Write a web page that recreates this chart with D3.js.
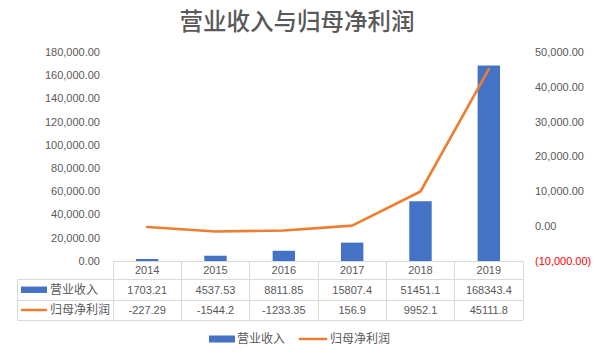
<!DOCTYPE html>
<html>
<head>
<meta charset="utf-8">
<script src="https://cdn.jsdelivr.net/npm/d3@7"></script>
<style>
  html, body { margin: 0; padding: 0; background: #fff; }
  #chart { width: 594px; height: 354px; }
  text { font-family: "Liberation Sans", "Noto Sans CJK SC", sans-serif; }
</style>
</head>
<body>
<div id="chart"></div>
<script>
// chart data
const years = ["2014", "2015", "2016", "2017", "2018", "2019"];
const revenue = [1703.21, 4537.53, 8811.85, 15807.4, 51451.1, 168343.4];
const netProfit = [-227.29, -1544.2, -1233.35, 156.9, 9952.1, 45111.8];
const seriesNames = ["营业收入", "归母净利润"];
const leftTicks = [0, 20000, 40000, 60000, 80000, 100000, 120000, 140000, 160000, 180000];
const rightTicks = [-10000, 0, 10000, 20000, 30000, 40000, 50000];
const title = "营业收入与归母净利润";

const W = 594, H = 354;
const M = {t: 52, r: 71, b: 93, l: 113};
const blue = "#4472C4", orange = "#ED7D31", grey = "#595959", gridC = "#d9d9d9";
const cjk = '"Noto Sans CJK SC", sans-serif';

const svg = d3.select("#chart").append("svg").attr("width", W).attr("height", H);

// scales
const xCol = d3.scaleBand().domain(years).range([M.l, W - M.r]).padding(0);
const xBar = d3.scaleBand().domain(years).range([M.l, W - M.r])
  .paddingInner(0.672).paddingOuter(0.336);
const yL = d3.scaleLinear().domain([0, 180000]).range([H - M.b, M.t]);
const yR = d3.scaleLinear().domain([-10000, 50000]).range([H - M.b, M.t]);

const fmt = d3.format(",.2f");

// title
svg.append("text")
  .attr("x", W / 2).attr("y", 30)
  .attr("text-anchor", "middle")
  .attr("font-family", cjk)
  .attr("font-size", "23.5px").attr("font-weight", 500)
  .attr("fill", grey)
  .text(title);

// left axis labels
svg.append("g").selectAll("text").data(leftTicks).enter().append("text")
  .attr("x", 100).attr("y", d => yL(d)).attr("dy", "0.35em")
  .attr("text-anchor", "end").attr("font-size", "11px").attr("fill", grey)
  .text(d => fmt(d));

// right axis labels
svg.append("g").selectAll("text").data(rightTicks).enter().append("text")
  .attr("x", 535).attr("y", d => yR(d)).attr("dy", "0.35em")
  .attr("text-anchor", "start").attr("font-size", "11px")
  .attr("fill", d => d < 0 ? "#FF0000" : grey)
  .text(d => d < 0 ? `(${fmt(-d)})` : fmt(d));

// bars
svg.append("g").selectAll("rect").data(years).enter().append("rect")
  .attr("x", d => xBar(d))
  .attr("width", xBar.bandwidth())
  .attr("y", (d, i) => yL(revenue[i]))
  .attr("height", (d, i) => yL(0) - yL(revenue[i]))
  .attr("fill", blue);

// line
const line = d3.line()
  .x((d, i) => xCol(years[i]) + xCol.bandwidth() / 2)
  .y(d => yR(d));
svg.append("path").datum(netProfit)
  .attr("d", line).attr("fill", "none")
  .attr("stroke", orange).attr("stroke-width", 2.6)
  .attr("stroke-linejoin", "round").attr("stroke-linecap", "round");

// data table
const tTop = H - M.b, rowH = [18.5, 20.5, 20];
const rowY = [tTop, tTop + rowH[0], tTop + rowH[0] + rowH[1], tTop + rowH[0] + rowH[1] + rowH[2]];
const tLeft = 17, tRight = W - M.r;
const tbl = svg.append("g").attr("stroke", gridC).attr("stroke-width", 1).attr("shape-rendering", "crispEdges");

tbl.append("line").attr("x1", M.l).attr("x2", tRight).attr("y1", rowY[0]).attr("y2", rowY[0]);
[1, 2, 3].forEach(r => {
  tbl.append("line").attr("x1", tLeft).attr("x2", tRight).attr("y1", rowY[r]).attr("y2", rowY[r]);
});
tbl.append("line").attr("x1", tLeft).attr("x2", tLeft).attr("y1", rowY[1]).attr("y2", rowY[3]);
years.forEach(y => {
  tbl.append("line").attr("x1", xCol(y)).attr("x2", xCol(y)).attr("y1", rowY[0]).attr("y2", rowY[3]);
});
tbl.append("line").attr("x1", tRight).attr("x2", tRight).attr("y1", rowY[0]).attr("y2", rowY[3]);

const cx = d => xCol(d) + xCol.bandwidth() / 2;
const rowMid = r => (rowY[r] + rowY[r + 1]) / 2;

svg.append("g").selectAll("text").data(years).enter().append("text")
  .attr("x", cx).attr("y", rowMid(0)).attr("dy", "0.35em")
  .attr("text-anchor", "middle").attr("font-size", "11px").attr("fill", grey)
  .text(d => d);

[revenue, netProfit].forEach((vals, r) => {
  svg.append("g").selectAll("text").data(vals).enter().append("text")
    .attr("x", (d, i) => cx(years[i])).attr("y", rowMid(r + 1)).attr("dy", "0.35em")
    .attr("text-anchor", "middle").attr("font-size", "11px").attr("fill", grey)
    .text(d => String(d));
});

// row headers with legend keys
svg.append("rect").attr("x", 21).attr("y", rowMid(1) - 3.2).attr("width", 26).attr("height", 6.4).attr("fill", blue);
svg.append("line").attr("x1", 22).attr("x2", 46).attr("y1", rowMid(2)).attr("y2", rowMid(2))
  .attr("stroke", orange).attr("stroke-width", 2.6).attr("stroke-linecap", "round");
seriesNames.forEach((name, r) => {
  svg.append("text").attr("x", 50).attr("y", rowMid(r + 1)).attr("dy", "0.35em")
    .attr("font-family", cjk).attr("font-size", "12px").attr("fill", grey)
    .text(name);
});

// bottom legend
const lg = svg.append("g");
lg.append("rect").attr("x", 209).attr("y", 335.5).attr("width", 26).attr("height", 7).attr("fill", blue);
lg.append("text").attr("x", 237).attr("y", 339).attr("dy", "0.35em")
  .attr("font-family", cjk).attr("font-size", "12px").attr("fill", grey).text(seriesNames[0]);
lg.append("line").attr("x1", 300).attr("x2", 326).attr("y1", 339).attr("y2", 339)
  .attr("stroke", orange).attr("stroke-width", 2.6).attr("stroke-linecap", "round");
lg.append("text").attr("x", 330).attr("y", 339).attr("dy", "0.35em")
  .attr("font-family", cjk).attr("font-size", "12px").attr("fill", grey).text(seriesNames[1]);
</script>
</body>
</html>
